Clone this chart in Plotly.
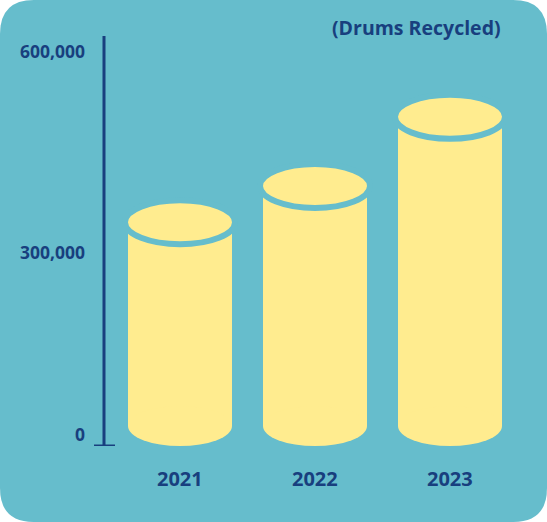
import plotly.graph_objects as go

# ---- data ----
years = ["2021", "2022", "2023"]
drums = [340000, 395000, 500000]
tick_vals = [0, 300000, 600000]
tick_text = ["0", "300,000", "600,000"]
title_text = "(Drums Recycled)"

# ---- style ----
TEAL = "#66BDCC"
YELLOW = "#FFEC8F"
NAVY = "#183F7E"
FONT = "Open Sans"

W, H = 547, 522
ML, MR, MT, MB = 104, 20, 36, 76
plot_w = W - ML - MR
plot_h = H - MT - MB
px_per_cat = 135.0
units_per_px = 600000 / 395.0
y_top = plot_h * units_per_px
x_lo = -(180 - ML) / px_per_cat
x_hi = x_lo + plot_w / px_per_cat

half_w = 52 / px_per_cat
bot_ry = 20 * units_per_px
top_rx = 55 / px_per_cat
top_ry = 22 * units_per_px

xs = list(range(len(years)))

fig = go.Figure()
fig.add_trace(go.Bar(
    x=xs, y=[v - bot_ry for v in drums], base=[bot_ry] * len(drums),
    width=2 * half_w, marker=dict(color=YELLOW, line=dict(width=0)),
    hovertext=[f"{y}: {v:,}" for y, v in zip(years, drums)], hoverinfo="text",
    showlegend=False,
))

shapes = []
def px2paper(px, py):
    return (px - ML) / plot_w, (H - MB - py) / plot_h

r = 34
def P(px, py):
    a, b = px2paper(px, py)
    return f"{a:.5f},{b:.5f}"
path = (f"M {P(r,0)} L {P(W-r,0)} Q {P(W,0)} {P(W,r)} L {P(W,H-r)} Q {P(W,H)} {P(W-r,H)} "
        f"L {P(r,H)} Q {P(0,H)} {P(0,H-r)} L {P(0,r)} Q {P(0,0)} {P(r,0)} Z")
shapes.append(dict(type="path", xref="paper", yref="paper", path=path,
                   fillcolor=TEAL, line=dict(width=0), layer="below"))

for x, v in zip(xs, drums):
    shapes.append(dict(type="circle", xref="x", yref="y", x0=x - half_w, x1=x + half_w,
                       y0=0, y1=2 * bot_ry, fillcolor=YELLOW, line=dict(width=0), layer="above"))
    shapes.append(dict(type="circle", xref="x", yref="y", x0=x - top_rx, x1=x + top_rx,
                       y0=v - top_ry, y1=v + top_ry, fillcolor=YELLOW,
                       line=dict(color=TEAL, width=6), layer="above"))

ax_x, _ = px2paper(104, 0)
_, ay_top = px2paper(0, 36)
shapes.append(dict(type="line", xref="paper", yref="paper", x0=ax_x, x1=ax_x, y0=0, y1=ay_top,
                   line=dict(color=NAVY, width=3), layer="above"))
tx0, _ = px2paper(94, 0)
tx1, _ = px2paper(115, 0)
shapes.append(dict(type="line", xref="paper", yref="y", x0=tx0, x1=tx1, y0=0, y1=0,
                   line=dict(color=NAVY, width=3), layer="above"))

annotations = []
lab_x, _ = px2paper(87, 0)
for v, t in zip(tick_vals, tick_text):
    annotations.append(dict(x=lab_x, y=v, xref="paper", yref="y", text=t, showarrow=False,
                            xanchor="right", yanchor="middle",
                            yshift=12 if v == 0 else (-3 if v == 300000 else 0),
                            font=dict(family=FONT, size=17.5, color=NAVY, weight="bold")))
_, yr_lab = px2paper(0, 478)
for x, yr in zip(xs, years):
    annotations.append(dict(x=x, y=yr_lab, xref="x", yref="paper", text=yr, showarrow=False,
                            xanchor="center", yanchor="middle",
                            font=dict(family=FONT, size=20, color=NAVY, weight="bold")))
tx, ty = px2paper(503, 28)
annotations.append(dict(x=tx, y=ty, xref="paper", yref="paper", text=title_text, showarrow=False,
                        xanchor="right", yanchor="middle",
                        font=dict(family=FONT, size=19.5, color=NAVY, weight="bold")))

fig.update_layout(
    width=W, height=H, margin=dict(l=ML, r=MR, t=MT, b=MB, autoexpand=False),
    paper_bgcolor="white", plot_bgcolor="rgba(0,0,0,0)",
    xaxis=dict(range=[x_lo, x_hi], visible=False, fixedrange=True),
    yaxis=dict(range=[0, y_top], visible=False, fixedrange=True),
    shapes=shapes, annotations=annotations, bargap=0,
    font=dict(family=FONT),
)
fig.write_html("out.html", config={"displayModeBar": False},
               post_script="document.body.style.margin='0';document.body.style.padding='0';")
